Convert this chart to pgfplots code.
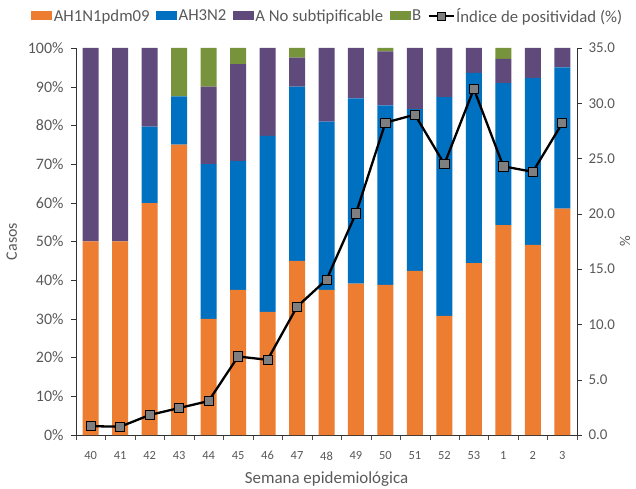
\documentclass[border=0pt]{standalone}
\usepackage{pgfplots}
\pgfplotsset{compat=1.18}
\usepackage{pgfplotstable}
\usepackage{fontspec}
\setmainfont{Carlito}
\definecolor{cOr}{HTML}{ED7D31}
\definecolor{cBl}{HTML}{0070C0}
\definecolor{cPu}{HTML}{604A7B}
\definecolor{cGr}{HTML}{77933C}
\definecolor{cTx}{HTML}{595959}
\definecolor{cMk}{HTML}{7F7F7F}
\pgfplotstableread{
x o b p g l
0 50 0 50 0 0.8
1 50 0 50 0 0.75
2 59.9 19.8 20.3 0 1.81
3 75 12.5 0 12.5 2.44
4 30 40 20 10 3.07
5 37.5 33.3 25 4.2 7.1
6 31.8 45.5 22.7 0 6.8
7 45 45 7.5 2.5 11.6
8 37.5 43.5 19 0 14.05
9 39.1 47.9 13 0 20.05
10 38.8 46.4 13.9 0.9 28.25
11 42.4 41.8 15.8 0 28.97
12 30.8 56.5 12.7 0 24.5
13 44.4 49.2 6.4 0 31.3
14 54.2 36.7 6.3 2.8 24.3
15 49.1 43.1 7.8 0 23.8
16 58.5 36.5 5 0 28.2
}\datatab
\begin{document}
\begin{tikzpicture}
\path[use as bounding box] (0,0) rectangle (636bp,489bp);
\begin{axis}[
  at={(76bp,54bp)}, anchor=south west,
  scale only axis, width=501bp, height=387bp,
  xmin=-0.5, xmax=16.5, ymin=0, ymax=100,
  ybar stacked, bar width=16bp,
  axis x line*=bottom, axis y line*=left,
  axis line style={-, black!80},
  xtick={0,...,16},
  xticklabels={40,41,42,43,44,45,46,47,48,49,50,51,52,53,1,2,3},
  major x tick style={draw=none},
  minor xtick={-0.5,0.5,...,16.5},
  minor x tick style={black!70},
  minor tick length=5bp,
  tick align=outside,
  ytick={0,10,...,100},
  yticklabel={\pgfmathprintnumber{\tick}\%},
  major y tick style={black!80},
  major tick length=5bp,
  /pgf/number format/assume math mode=true,
  x tick label style={font=\fontsize{12.5}{12.5}\selectfont, text=cTx, yshift=-8bp},
  y tick label style={font=\fontsize{16}{16}\selectfont, text=cTx, xshift=-4bp},
  xlabel={Semana epidemiológica},
  xlabel style={font=\fontsize{17}{17}\selectfont, text=cTx, at={(axis description cs:0.5,0)}, anchor=center, yshift=-44bp},
  ylabel={Casos},
  ylabel style={font=\fontsize{16}{16}\selectfont, text=cTx, at={(axis description cs:-0.128,0.5)}, anchor=center},
  legend columns=5,
  legend style={at={(0.5,1)}, anchor=center, yshift=32bp, xshift=1bp, draw=none, fill=none,
    font=\fontsize{16.8}{16.8}\selectfont, text=cTx,
    nodes={inner sep=1.5bp},
    /tikz/every even column/.append style={column sep=5bp}},
  legend image code/.code={\fill[#1] (0bp,-4.5bp) rectangle (21bp,4.5bp);},
]
\addplot[fill=cOr, draw=none] table[x=x,y=o]{\datatab};
\addlegendentry{AH1N1pdm09}
\addplot[fill=cBl, draw=none] table[x=x,y=b]{\datatab};
\addlegendentry{AH3N2}
\addplot[fill=cPu, draw=none] table[x=x,y=p]{\datatab};
\addlegendentry{A No subtipificable}
\addplot[fill=cGr, draw=none] table[x=x,y=g]{\datatab};
\addlegendentry{B}
\addlegendimage{legend image code/.code={\draw[black, line width=2bp] (0bp,0bp) -- (25bp,0bp); \node[draw=black, fill=cMk, rectangle, inner sep=0pt, minimum size=8bp, line width=0.8bp] at (12.5bp,0bp) {};}}
\addlegendentry{Índice de positividad (\%)}
\end{axis}
\begin{axis}[
  at={(76bp,54bp)}, anchor=south west,
  scale only axis, width=501bp, height=387bp,
  xmin=-0.5, xmax=16.5, ymin=0, ymax=35,
  axis x line=none, axis y line*=right,
  axis line style={-, black!80},
  ytick={0,5,...,35},
  /pgf/number format/fixed, /pgf/number format/fixed zerofill, /pgf/number format/precision=1,
  /pgf/number format/assume math mode=true,
  tick align=outside, major tick length=5bp,
  major y tick style={black!80},
  y tick label style={font=\fontsize{15}{15}\selectfont, text=cTx, xshift=3bp},
  ylabel={\%},
  ylabel style={font=\fontsize{15}{15}\selectfont, text=cTx, at={(axis description cs:1.096,0.5)}, anchor=center},
  clip=false,
]
\addplot[black, line width=2.3bp, mark=square*, mark size=4.6bp,
  mark options={fill=cMk, draw=black, line width=0.8bp}] table[x=x,y=l]{\datatab};
\end{axis}
\end{tikzpicture}
\end{document}
